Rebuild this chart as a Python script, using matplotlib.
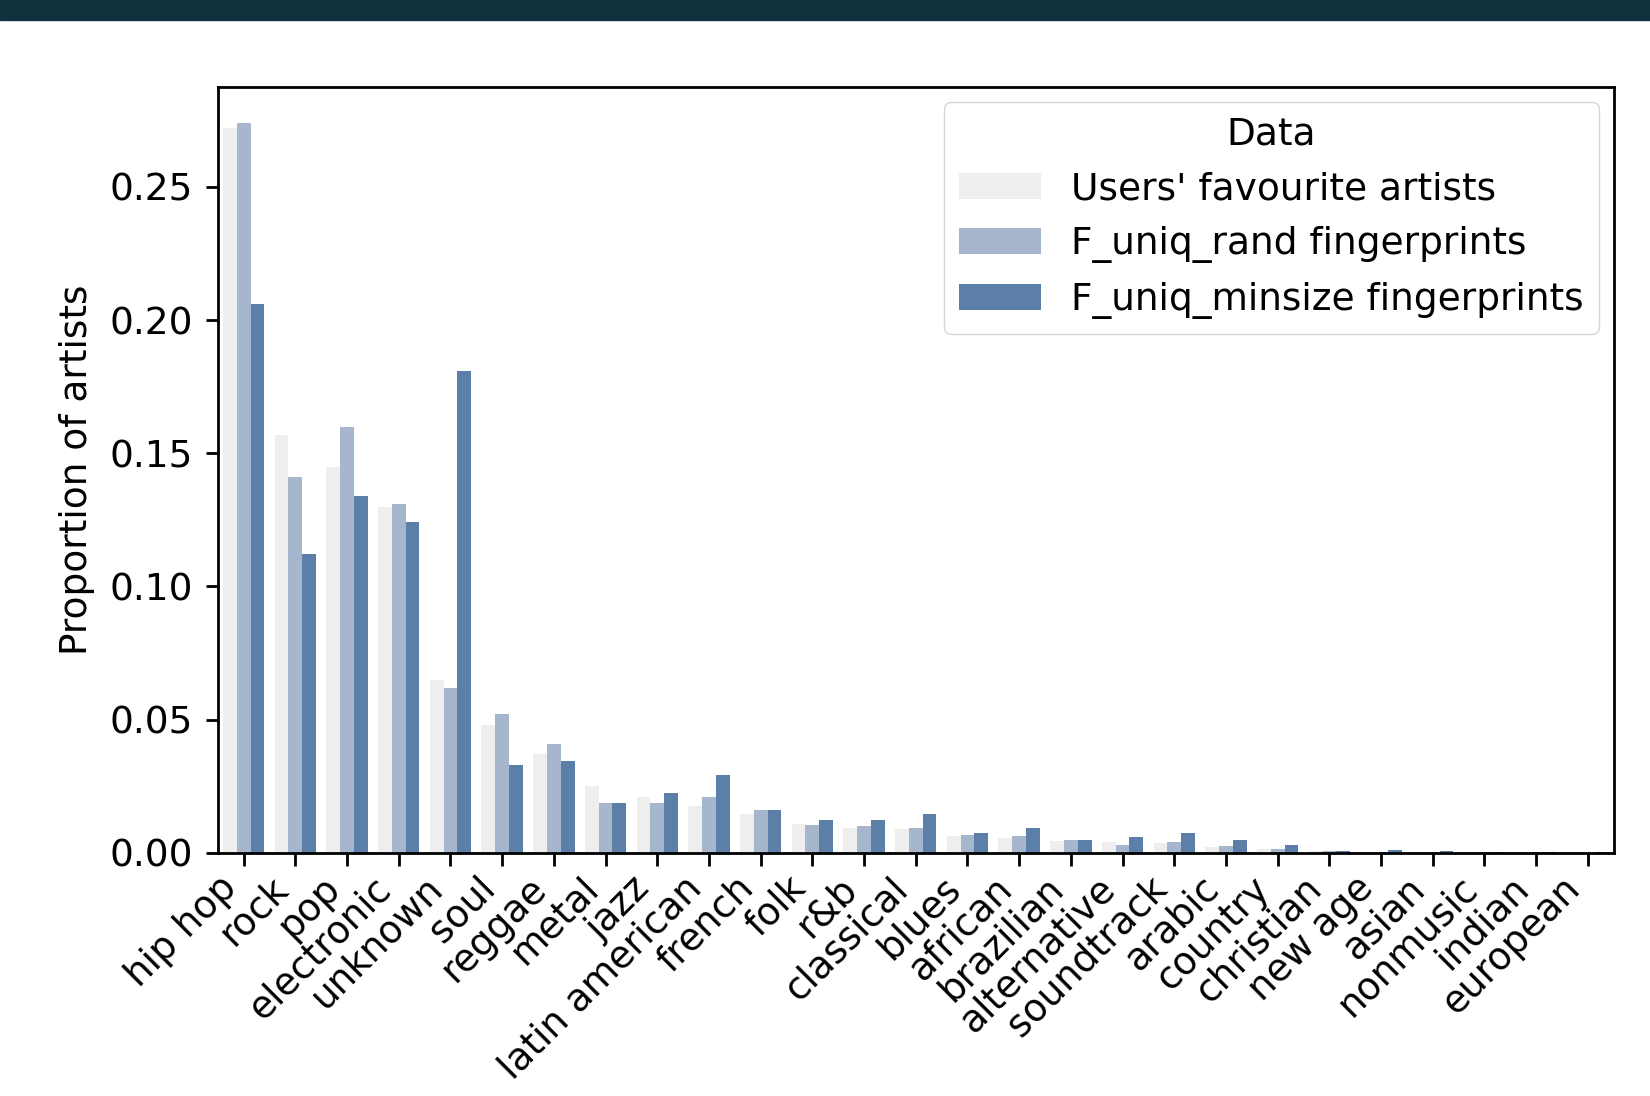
import matplotlib
matplotlib.use('Agg')
import matplotlib.pyplot as plt
import numpy as np

genres = ['hip hop', 'rock', 'pop', 'electronic', 'unknown', 'soul', 'reggae',
          'metal', 'jazz', 'latin american', 'french', 'folk', 'r&b', 'classical',
          'blues', 'african', 'brazilian', 'alternative', 'soundtrack', 'arabic',
          'country', 'christian', 'new age', 'asian', 'nonmusic', 'indian', 'european']

users_fav = [0.272, 0.157, 0.145, 0.130, 0.065, 0.048, 0.037, 0.025, 0.021, 0.0176,
             0.0147, 0.0108, 0.0093, 0.0088, 0.0062, 0.0055, 0.0043, 0.0040, 0.0035,
             0.0020, 0.0012, 0.0005, 0.0003, 0.0002, 0.0002, 0.0001, 0.0001]
uniq_rand = [0.274, 0.141, 0.160, 0.131, 0.062, 0.052, 0.041, 0.0185, 0.0185, 0.0208,
             0.0162, 0.0105, 0.0100, 0.0092, 0.0068, 0.0063, 0.0048, 0.0030, 0.0040,
             0.0026, 0.0012, 0.0005, 0.0003, 0.0002, 0.0001, 0.0001, 0.00005]
uniq_minsize = [0.206, 0.112, 0.134, 0.124, 0.181, 0.033, 0.0345, 0.0185, 0.0225, 0.0290,
                0.0162, 0.0123, 0.0121, 0.0145, 0.0075, 0.0094, 0.0048, 0.0058, 0.0073,
                0.0046, 0.0027, 0.0008, 0.0011, 0.0005, 0.0002, 0.0001, 0.0001]

series_names = ["Users' favourite artists", "F_uniq_rand fingerprints", "F_uniq_minsize fingerprints"]
colors = ['#eeeeee', '#a5b6cd', '#5b7fa7']

fig = plt.figure(figsize=(16.5, 10.96), dpi=100)
# dark strip along the top edge
fig.patches.append(plt.Rectangle((0, 0.982), 1, 0.018, transform=fig.transFigure,
                                 color='#12313f', zorder=0))
ax = fig.add_axes([0.132, 0.222, 0.846, 0.699])

x = np.arange(len(genres))
w = 0.8 / 3
for i, (vals, name) in enumerate(zip([users_fav, uniq_rand, uniq_minsize], series_names)):
    ax.bar(x + (i - 1) * w, vals, width=w, color=colors[i], label=name)

ax.set_xlim(-0.5, len(genres) - 0.5)
ax.set_yticks([0.0, 0.05, 0.10, 0.15, 0.20, 0.25])
ax.set_xticks(x)
ax.set_xticklabels(genres, rotation=45, ha='right')
ax.set_ylabel('Proportion of artists', fontsize=27, labelpad=10)
ax.tick_params(labelsize=27, length=9, width=2)
ax.tick_params(axis='y', pad=9)
for s in ax.spines.values():
    s.set_linewidth(2)

leg = ax.legend(title='Data', loc='upper right', fontsize=27, title_fontsize=27,
                borderaxespad=0.4, handlelength=2.2)

fig.savefig('out.png', dpi=100)
